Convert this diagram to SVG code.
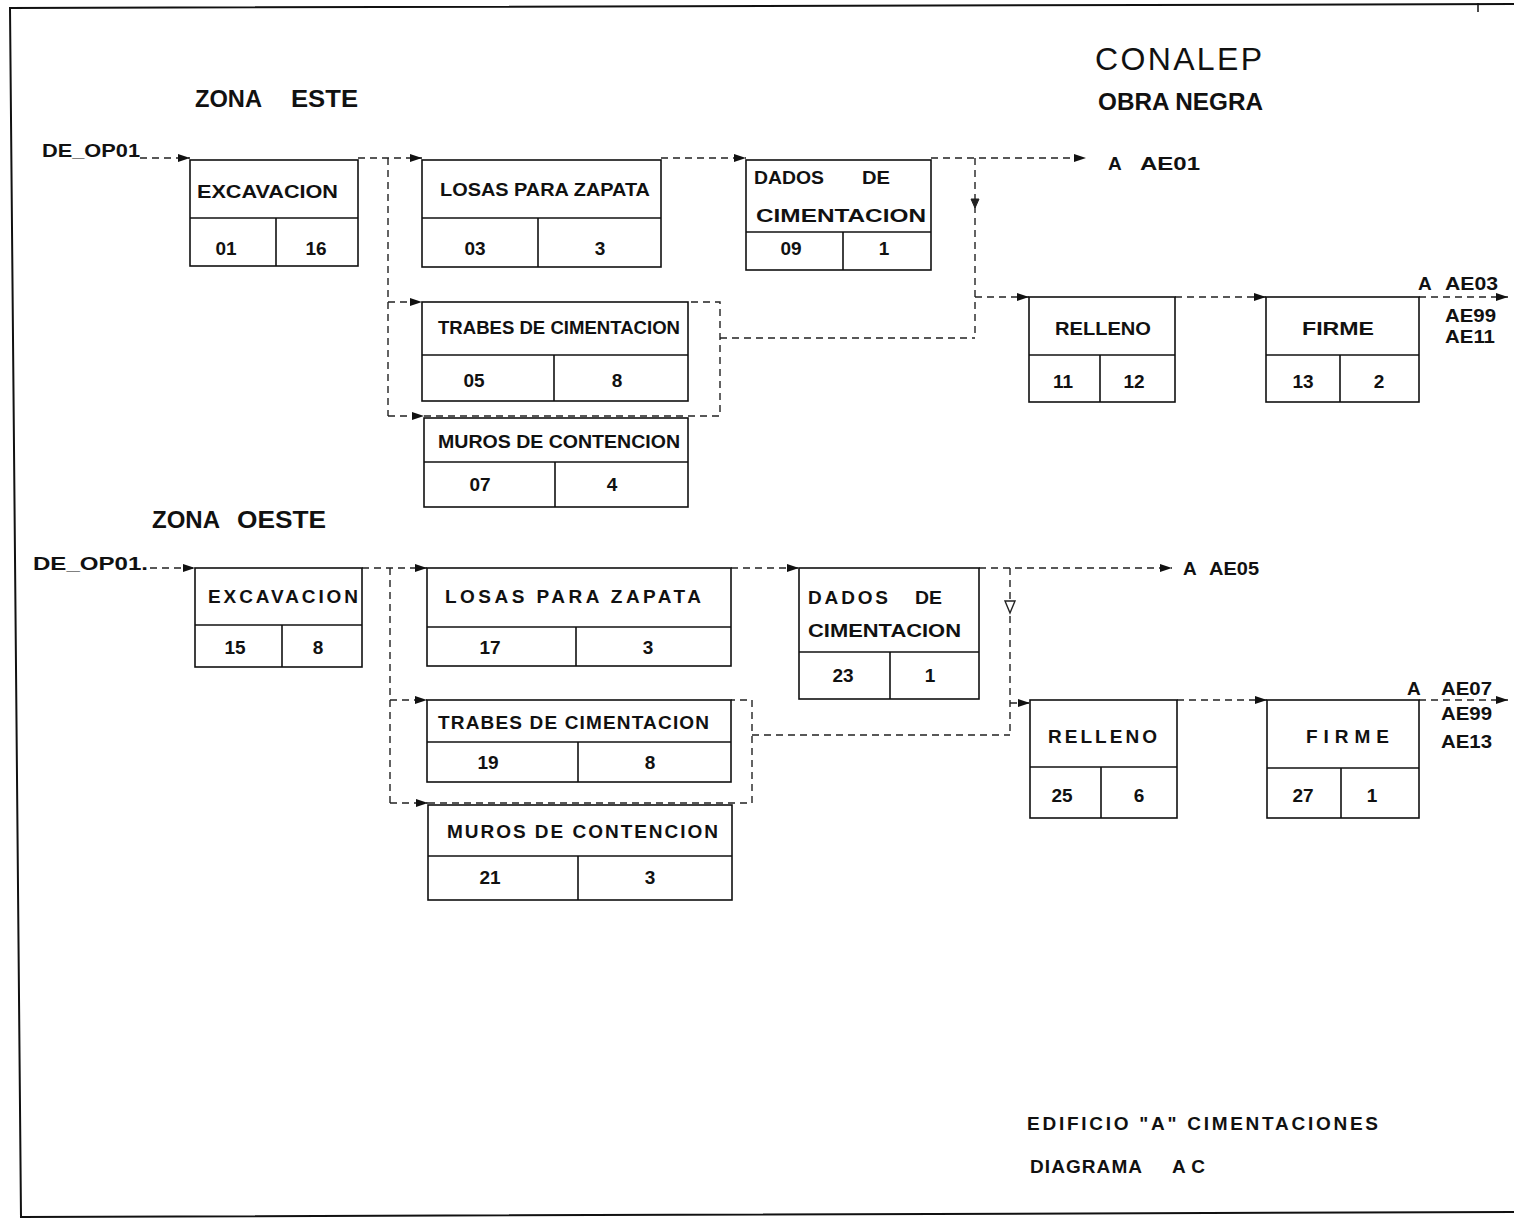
<svg xmlns="http://www.w3.org/2000/svg" width="1514" height="1220" viewBox="0 0 1514 1220">
<style>
.bg{fill:#fff}
.frame{fill:none;stroke:#111;stroke-width:2}
.box{fill:none;stroke:#111;stroke-width:1.6}
.ln{stroke:#111;stroke-width:1.6}
.t{font-family:"Liberation Sans",Arial,sans-serif;font-weight:bold;font-size:19px;fill:#111}
.n{font-family:"Liberation Sans",Arial,sans-serif;font-weight:bold;font-size:19px;fill:#111;text-anchor:middle}
.c{fill:none;stroke:#222;stroke-width:1.4;stroke-dasharray:7 5}
.tri{fill:#222;stroke:#222;stroke-width:1}
.trio{fill:#fff;stroke:#222;stroke-width:1.4}
.big{font-family:"Liberation Sans",Arial,sans-serif;font-weight:normal;font-size:32px;fill:#111}
.h{font-size:24px}
.s{font-size:18px}
</style>
<defs>
<marker id="ah" viewBox="0 0 12 8" refX="12" refY="4" markerWidth="12" markerHeight="8" markerUnits="userSpaceOnUse" orient="auto">
<path d="M0,0 L12,4 L0,8 z" fill="#111"/>
</marker>
</defs>
<rect class="bg" x="0" y="0" width="1514" height="1220"/>
<g id="frame">
<polyline class="frame" points="1514,4 10,8 21,1217 1514,1212"/>
<line x1="1478" y1="3" x2="1478" y2="12" stroke="#111" stroke-width="1.5"/>
</g>
<g id="titles">
<text class="big" x="1095" y="70" textLength="167" lengthAdjust="spacing">CONALEP</text>
<text class="t h" x="1098" y="110" textLength="165" lengthAdjust="spacingAndGlyphs">OBRA NEGRA</text>
<text class="t h"><tspan x="195" y="107" textLength="67" lengthAdjust="spacingAndGlyphs">ZONA</tspan><tspan x="291" y="107" textLength="67" lengthAdjust="spacingAndGlyphs">ESTE</tspan></text>
<text class="t h"><tspan x="152" y="528" textLength="68" lengthAdjust="spacingAndGlyphs">ZONA</tspan><tspan x="237" y="528" textLength="89" lengthAdjust="spacingAndGlyphs">OESTE</tspan></text>
<text class="t s" x="42" y="157" textLength="98" lengthAdjust="spacingAndGlyphs">DE_OP01</text>
<text class="t s" x="33" y="570" textLength="115" lengthAdjust="spacingAndGlyphs">DE_OP01.</text>
<text class="t"><tspan x="1108" y="170">A</tspan><tspan x="1140" y="170" textLength="60" lengthAdjust="spacingAndGlyphs">AE01</tspan></text>
<text class="t"><tspan x="1418" y="290">A</tspan><tspan x="1445" y="290" textLength="53" lengthAdjust="spacingAndGlyphs">AE03</tspan></text>
<text class="t s" x="1445" y="322" textLength="51" lengthAdjust="spacingAndGlyphs">AE99</text>
<text class="t s" x="1445" y="343" textLength="50" lengthAdjust="spacingAndGlyphs">AE11</text>
<text class="t"><tspan x="1183" y="575">A</tspan><tspan x="1209" y="575" textLength="50" lengthAdjust="spacingAndGlyphs">AE05</tspan></text>
<text class="t"><tspan x="1407" y="695">A</tspan><tspan x="1441" y="695" textLength="51" lengthAdjust="spacingAndGlyphs">AE07</tspan></text>
<text class="t" x="1441" y="720" textLength="51" lengthAdjust="spacingAndGlyphs">AE99</text>
<text class="t" x="1441" y="748" textLength="51" lengthAdjust="spacingAndGlyphs">AE13</text>
<text class="t" x="1027" y="1130" textLength="351" lengthAdjust="spacing">EDIFICIO "A" CIMENTACIONES</text>
<text class="t"><tspan x="1030" y="1173" textLength="112" lengthAdjust="spacing">DIAGRAMA</tspan><tspan x="1172" y="1173" textLength="33" lengthAdjust="spacing">AC</tspan></text>
</g>
<g id="connectors">
<path class="c" d="M140,158 H190" marker-end="url(#ah)"/>
<path class="c" d="M358,158 H422" marker-end="url(#ah)"/>
<path class="c" d="M388,158 V416"/>
<path class="c" d="M388,302 H422" marker-end="url(#ah)"/>
<path class="c" d="M388,416 H424" marker-end="url(#ah)"/>
<path class="c" d="M424,416 H720 V302 H688"/>
<path class="c" d="M720,338 H975"/>
<path class="c" d="M661,158 H746" marker-end="url(#ah)"/>
<path class="c" d="M931,158 H1086" marker-end="url(#ah)"/>
<path class="c" d="M975,158 V338"/>
<polygon class="tri" points="971,199 979,199 975,208"/>
<path class="c" d="M975,297 H1029" marker-end="url(#ah)"/>
<path class="c" d="M1175,297 H1266" marker-end="url(#ah)"/>
<path class="c" d="M1419,297 H1508" marker-end="url(#ah)"/>
<path class="c" d="M150,568 H195" marker-end="url(#ah)"/>
<path class="c" d="M362,568 H427" marker-end="url(#ah)"/>
<path class="c" d="M390,568 V803"/>
<path class="c" d="M390,700 H427" marker-end="url(#ah)"/>
<path class="c" d="M390,803 H428" marker-end="url(#ah)"/>
<path class="c" d="M428,803 H752 V700 H731"/>
<path class="c" d="M752,735 H1010"/>
<path class="c" d="M731,568 H799" marker-end="url(#ah)"/>
<path class="c" d="M979,568 H1172" marker-end="url(#ah)"/>
<path class="c" d="M1010,568 V735"/>
<polygon class="trio" points="1005,601 1015,601 1010,613"/>
<path class="c" d="M1010,703 H1030" marker-end="url(#ah)"/>
<path class="c" d="M1177,700 H1267" marker-end="url(#ah)"/>
<path class="c" d="M1419,700 H1508" marker-end="url(#ah)"/>
</g>
<g id="exc-este">
<rect class="box" x="190" y="160" width="168" height="106"/>
<line class="ln" x1="190" y1="218" x2="358" y2="218"/>
<line class="ln" x1="276" y1="218" x2="276" y2="266"/>
<text class="t" x="197" y="198" textLength="141" lengthAdjust="spacingAndGlyphs">EXCAVACION</text>
<text class="n" x="226" y="255">01</text>
<text class="n" x="316" y="255">16</text>
</g>
<g id="losas-este">
<rect class="box" x="422" y="160" width="239" height="107"/>
<line class="ln" x1="422" y1="218" x2="661" y2="218"/>
<line class="ln" x1="538" y1="218" x2="538" y2="267"/>
<text class="t" x="440" y="196" textLength="210" lengthAdjust="spacingAndGlyphs">LOSAS PARA ZAPATA</text>
<text class="n" x="475" y="255">03</text>
<text class="n" x="600" y="255">3</text>
</g>
<g id="dados-este">
<rect class="box" x="746" y="160" width="185" height="110"/>
<line class="ln" x1="746" y1="232" x2="931" y2="232"/>
<line class="ln" x1="843" y1="232" x2="843" y2="270"/>
<text class="t" x="754" y="184" textLength="70" lengthAdjust="spacingAndGlyphs">DADOS</text>
<text class="t" x="862" y="184" textLength="28" lengthAdjust="spacingAndGlyphs">DE</text>
<text class="t" x="756" y="222" textLength="170" lengthAdjust="spacingAndGlyphs">CIMENTACION</text>
<text class="n" x="791" y="255">09</text>
<text class="n" x="884" y="255">1</text>
</g>
<g id="trabes-este">
<rect class="box" x="422" y="302" width="266" height="99"/>
<line class="ln" x1="422" y1="355" x2="688" y2="355"/>
<line class="ln" x1="554" y1="355" x2="554" y2="401"/>
<text class="t" x="438" y="334" textLength="242" lengthAdjust="spacingAndGlyphs">TRABES DE CIMENTACION</text>
<text class="n" x="474" y="387">05</text>
<text class="n" x="617" y="387">8</text>
</g>
<g id="muros-este">
<rect class="box" x="424" y="418" width="264" height="89"/>
<line class="ln" x1="424" y1="462" x2="688" y2="462"/>
<line class="ln" x1="555" y1="462" x2="555" y2="507"/>
<text class="t" x="438" y="448" textLength="242" lengthAdjust="spacingAndGlyphs">MUROS DE CONTENCION</text>
<text class="n" x="480" y="491">07</text>
<text class="n" x="612" y="491">4</text>
</g>
<g id="relleno-este">
<rect class="box" x="1029" y="297" width="146" height="105"/>
<line class="ln" x1="1029" y1="355" x2="1175" y2="355"/>
<line class="ln" x1="1100" y1="355" x2="1100" y2="402"/>
<text class="t" x="1055" y="335" textLength="96" lengthAdjust="spacingAndGlyphs">RELLENO</text>
<text class="n" x="1063" y="388">11</text>
<text class="n" x="1134" y="388">12</text>
</g>
<g id="firme-este">
<rect class="box" x="1266" y="297" width="153" height="105"/>
<line class="ln" x1="1266" y1="355" x2="1419" y2="355"/>
<line class="ln" x1="1340" y1="355" x2="1340" y2="402"/>
<text class="t" x="1302" y="335" textLength="72" lengthAdjust="spacingAndGlyphs">FIRME</text>
<text class="n" x="1303" y="388">13</text>
<text class="n" x="1379" y="388">2</text>
</g>
<g id="exc-oeste">
<rect class="box" x="195" y="568" width="167" height="99"/>
<line class="ln" x1="195" y1="625" x2="362" y2="625"/>
<line class="ln" x1="282" y1="625" x2="282" y2="667"/>
<text class="t" x="208" y="603" textLength="150" lengthAdjust="spacing">EXCAVACION</text>
<text class="n" x="235" y="654">15</text>
<text class="n" x="318" y="654">8</text>
</g>
<g id="losas-oeste">
<rect class="box" x="427" y="568" width="304" height="98"/>
<line class="ln" x1="427" y1="627" x2="731" y2="627"/>
<line class="ln" x1="576" y1="627" x2="576" y2="666"/>
<text class="t" x="445" y="603" textLength="256" lengthAdjust="spacing">LOSAS PARA ZAPATA</text>
<text class="n" x="490" y="654">17</text>
<text class="n" x="648" y="654">3</text>
</g>
<g id="dados-oeste">
<rect class="box" x="799" y="568" width="180" height="131"/>
<line class="ln" x1="799" y1="652" x2="979" y2="652"/>
<line class="ln" x1="890" y1="652" x2="890" y2="699"/>
<text class="t" x="808" y="604" textLength="80" lengthAdjust="spacing">DADOS</text>
<text class="t" x="915" y="604" textLength="27" lengthAdjust="spacingAndGlyphs">DE</text>
<text class="t" x="808" y="637" textLength="153" lengthAdjust="spacingAndGlyphs">CIMENTACION</text>
<text class="n" x="843" y="682">23</text>
<text class="n" x="930" y="682">1</text>
</g>
<g id="trabes-oeste">
<rect class="box" x="427" y="700" width="304" height="82"/>
<line class="ln" x1="427" y1="742" x2="731" y2="742"/>
<line class="ln" x1="578" y1="742" x2="578" y2="782"/>
<text class="t" x="438" y="729" textLength="271" lengthAdjust="spacing">TRABES DE CIMENTACION</text>
<text class="n" x="488" y="769">19</text>
<text class="n" x="650" y="769">8</text>
</g>
<g id="muros-oeste">
<rect class="box" x="428" y="805" width="304" height="95"/>
<line class="ln" x1="428" y1="856" x2="732" y2="856"/>
<line class="ln" x1="578" y1="856" x2="578" y2="900"/>
<text class="t" x="447" y="838" textLength="271" lengthAdjust="spacing">MUROS DE CONTENCION</text>
<text class="n" x="490" y="884">21</text>
<text class="n" x="650" y="884">3</text>
</g>
<g id="relleno-oeste">
<rect class="box" x="1030" y="700" width="147" height="118"/>
<line class="ln" x1="1030" y1="767" x2="1177" y2="767"/>
<line class="ln" x1="1101" y1="767" x2="1101" y2="818"/>
<text class="t" x="1048" y="743" textLength="109" lengthAdjust="spacing">RELLENO</text>
<text class="n" x="1062" y="802">25</text>
<text class="n" x="1139" y="802">6</text>
</g>
<g id="firme-oeste">
<rect class="box" x="1267" y="700" width="152" height="118"/>
<line class="ln" x1="1267" y1="768" x2="1419" y2="768"/>
<line class="ln" x1="1341" y1="768" x2="1341" y2="818"/>
<text class="t" x="1306" y="743" textLength="83" lengthAdjust="spacing">FIRME</text>
<text class="n" x="1303" y="802">27</text>
<text class="n" x="1372" y="802">1</text>
</g>
</svg>
